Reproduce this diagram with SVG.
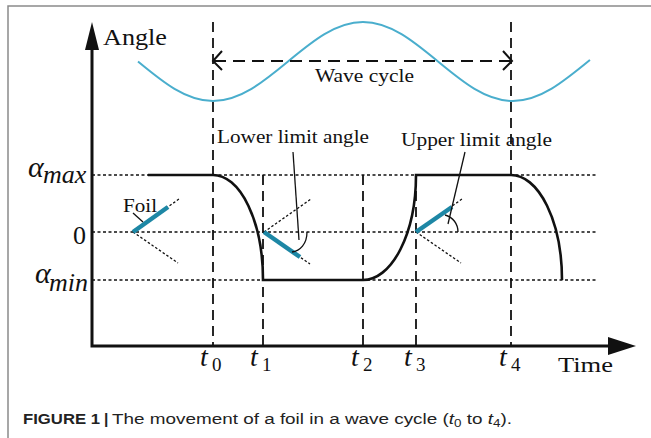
<svg xmlns="http://www.w3.org/2000/svg" width="651" height="438" viewBox="0 0 651 438">
<defs>
<style>
.frame{stroke:#8a8a8a;stroke-width:1.5;fill:none}
.ax{stroke:#111;stroke-width:3;fill:none;stroke-linejoin:miter}
.ah{fill:#111;stroke:none}
.vd{stroke:#111;stroke-width:1.8;stroke-dasharray:10 6;fill:none}
.hd{stroke:#111;stroke-width:1.6;stroke-dasharray:3 2.5;fill:none}
.fd{stroke:#111;stroke-width:1.3;stroke-dasharray:2.5 2;fill:none}
.wc{stroke:#111;stroke-width:2;stroke-dasharray:12 7;fill:none}
.chev{stroke:#111;stroke-width:2;fill:none}
.curve{stroke:#111;stroke-width:2.6;fill:none}
.foil{stroke:#1d87a5;stroke-width:4.5;fill:none}
.wave{stroke:#4aaecd;stroke-width:2;fill:none}
.lead{stroke:#111;stroke-width:1.3;fill:none}
.lbl{font-family:"Liberation Serif","Times New Roman",serif;fill:#111}
.math{font-family:"Liberation Serif","Times New Roman",serif;font-style:italic;fill:#111}
.cap{font-family:"Liberation Sans",Arial,sans-serif;fill:#222;font-size:15.5px}
</style>
</defs>
<rect width="651" height="438" fill="#fff"/>
<path class="frame" d="M8,438 V6 H651"/>

<g id="grid">
<line class="hd" x1="92" y1="175" x2="597" y2="175"/>
<line class="hd" x1="92" y1="232" x2="597" y2="232"/>
<line class="hd" x1="92" y1="280" x2="597" y2="280"/>
<line class="vd" x1="213" y1="22" x2="213" y2="346"/>
<line class="vd" x1="263" y1="175" x2="263" y2="346"/>
<line class="vd" x1="363" y1="175" x2="363" y2="346"/>
<line class="vd" x1="416" y1="175" x2="416" y2="346"/>
<line class="vd" x1="511" y1="22" x2="511" y2="346"/>
</g>

<g id="axes">
<path class="ax" d="M92,48 V346 H610"/>
<polygon class="ah" points="92,22 85,50 99,50"/>
<polygon class="ah" points="636,346 608,337 608,355"/>
<text class="lbl" x="103" y="45" font-size="23" textLength="64" lengthAdjust="spacingAndGlyphs">Angle</text>
<text class="lbl" x="558" y="372" font-size="22" textLength="55" lengthAdjust="spacingAndGlyphs">Time</text>
</g>

<g id="axis-labels">
<text class="math" x="28" y="177" font-size="30">α<tspan x="43" y="183" font-size="26">max</tspan></text>
<text class="lbl" x="86" y="244" font-size="26" text-anchor="end">0</text>
<text class="math" x="35" y="283" font-size="30">α<tspan x="49" y="291" font-size="26">min</tspan></text>
<text class="math" x="200" y="366" font-size="28">t<tspan x="212" y="371" font-size="19" font-style="normal">0</tspan></text>
<text class="math" x="250" y="366" font-size="28">t<tspan x="262" y="371" font-size="19" font-style="normal">1</tspan></text>
<text class="math" x="351" y="366" font-size="28">t<tspan x="363" y="371" font-size="19" font-style="normal">2</tspan></text>
<text class="math" x="404" y="366" font-size="28">t<tspan x="416" y="371" font-size="19" font-style="normal">3</tspan></text>
<text class="math" x="499" y="366" font-size="28">t<tspan x="511" y="371" font-size="19" font-style="normal">4</tspan></text>
</g>

<g id="wave">
<path class="wave" d="M138,61.5 C162.46,81.74 185.86,101 213,101 C240.14,101 263.54,81.74 288,61.5 C312.46,41.26 335.86,22 363,22 C390.14,22 413.54,41.26 438,61.5 C462.46,81.74 485.86,101 513,101 C540.14,101 563.54,81.74 590,60"/>
</g>

<g id="wave-cycle">
<line class="wc" x1="214" y1="61" x2="510" y2="61"/>
<path class="chev" d="M222,51 L213,61 L222,70"/>
<path class="chev" d="M503,51 L512,61 L503,70"/>
<text class="lbl" x="315" y="82" font-size="18" textLength="99" lengthAdjust="spacingAndGlyphs">Wave cycle</text>
</g>

<g id="foil-angle">
<path class="curve" d="M148,175 H213 A50,105 0 0 1 263,280 H363 A53,105 0 0 0 416,175 H511 A51,105 0 0 1 562,280"/>
</g>

<g id="foil-0">
<line class="fd" x1="133" y1="232" x2="179" y2="199"/>
<line class="fd" x1="133" y1="232" x2="178" y2="263"/>
<line class="foil" x1="133" y1="232" x2="168" y2="207"/>
<line class="lead" x1="133" y1="213" x2="143" y2="222"/>
<text class="lbl" x="123" y="212" font-size="18" textLength="34" lengthAdjust="spacingAndGlyphs">Foil</text>
</g>

<g id="foil-1">
<line class="fd" x1="264" y1="232" x2="311" y2="199"/>
<line class="fd" x1="264" y1="232" x2="310" y2="264"/>
<line class="foil" x1="264" y1="232" x2="300" y2="257"/>
<path class="lead" d="M307,232 C307,244 300,251 292,252"/>
<line class="lead" x1="293" y1="152" x2="299" y2="240"/>
<text class="lbl" x="217" y="143" font-size="18" textLength="152" lengthAdjust="spacingAndGlyphs">Lower limit angle</text>
</g>

<g id="foil-3">
<line class="fd" x1="416" y1="232" x2="462" y2="199"/>
<line class="fd" x1="416" y1="232" x2="461" y2="263"/>
<line class="foil" x1="416" y1="232" x2="452" y2="207"/>
<path class="lead" d="M458,232 C458,224 453,217 445,215"/>
<line class="lead" x1="465" y1="152" x2="448" y2="224"/>
<text class="lbl" x="401" y="146" font-size="18" textLength="151" lengthAdjust="spacingAndGlyphs">Upper limit angle</text>
</g>

<g id="caption">
<text class="cap" x="23" y="424" font-weight="bold" textLength="77" lengthAdjust="spacingAndGlyphs">FIGURE 1</text>
<text class="cap" x="104" y="424" font-weight="bold">|</text>
<text class="cap" x="112" y="424" textLength="400" lengthAdjust="spacingAndGlyphs">The movement of a foil in a wave cycle (<tspan font-style="italic">t</tspan><tspan font-size="11" dy="3">0</tspan><tspan dy="-3"> to </tspan><tspan font-style="italic">t</tspan><tspan font-size="11" dy="3">4</tspan><tspan dy="-3">).</tspan></text>
</g>
</svg>
